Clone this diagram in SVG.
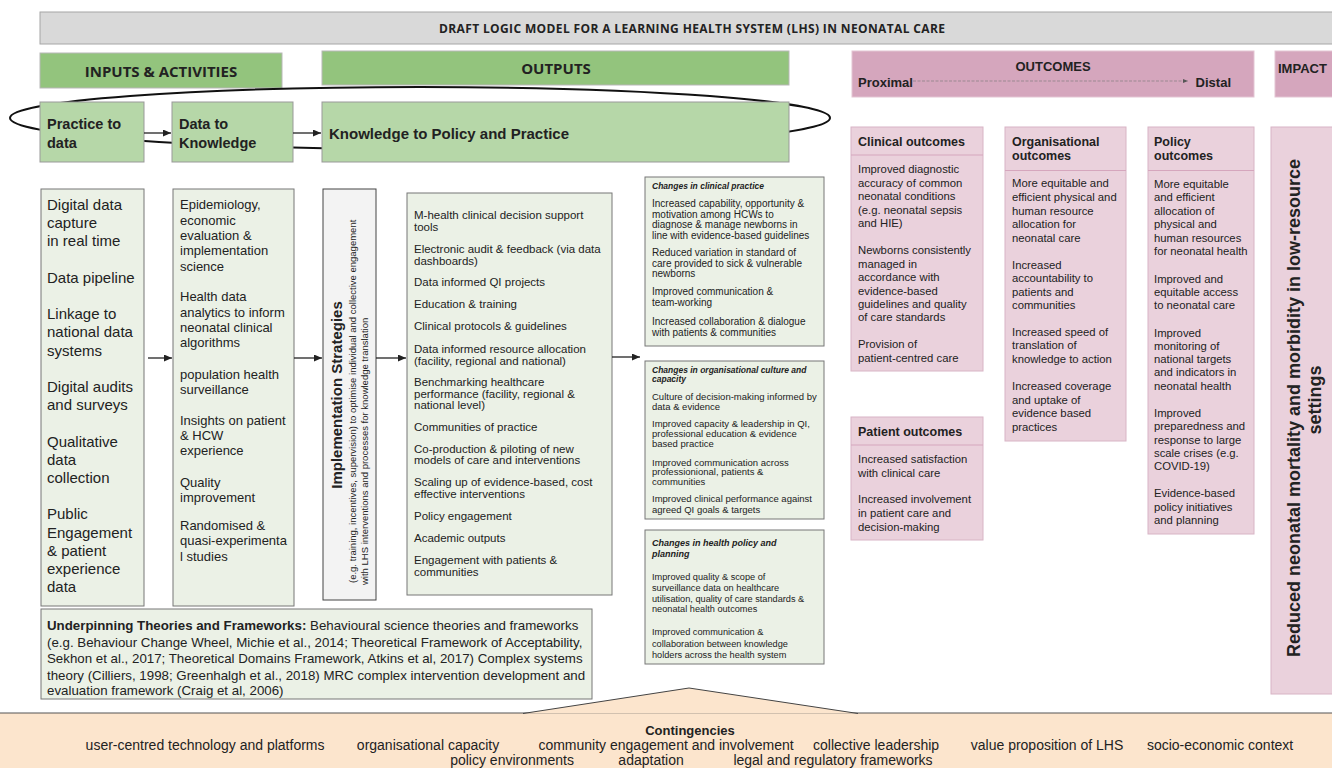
<svg xmlns="http://www.w3.org/2000/svg" width="1332" height="768" viewBox="0 0 1332 768">
<style>
text{font-family:"Liberation Sans",Arial,sans-serif;fill:#222}
.hd{font-family:"Open Sans","Liberation Sans",sans-serif;font-weight:700;fill:#222}
.b{font-weight:bold}
.bi{font-weight:bold;font-style:italic}
.grnH{fill:#93c47d;stroke:#b7b7b7;stroke-width:1}
.grn{fill:#b6d7a8;stroke:#999;stroke-width:1}
.lg{fill:#ebf1e6;stroke:#777;stroke-width:1}
.pkH{fill:#d5a6bd;stroke:#e3c5d3;stroke-width:1}
.pk{fill:#ead1dc;stroke:#d8b4c5;stroke-width:1}
.div{stroke:#d5a6bd;stroke-width:1}
.conn line{stroke:#222;stroke-width:1.3;marker-end:url(#ah)}
</style>
<defs>
<marker id="ah" markerWidth="8" markerHeight="7" refX="8" refY="3.5" orient="auto" markerUnits="userSpaceOnUse"><path d="M0,0 L8,3.5 L0,7 z" fill="#222"/></marker>
<marker id="ahs" markerWidth="5" markerHeight="4" refX="5" refY="2" orient="auto" markerUnits="userSpaceOnUse"><path d="M0,0 L5,2 L0,4 z" fill="#555"/></marker>
</defs>
<rect width="1332" height="768" fill="#fff"/>

<g id="title">
<rect x="40" y="12" width="1300" height="32" fill="#d9d9d9" stroke="#a6a6a6"/>
<text class="hd" x="692" y="33" font-size="12" font-weight="600" text-anchor="middle" textLength="506">DRAFT LOGIC MODEL FOR A LEARNING HEALTH SYSTEM (LHS)  IN NEONATAL CARE</text>
</g>

<g id="hdr-inputs"><rect class="grnH" x="40" y="53" width="242" height="35"/><text class="hd" x="161" y="77" font-size="15" text-anchor="middle">INPUTS &amp; ACTIVITIES</text></g>
<g id="hdr-outputs"><rect class="grnH" x="322" y="51" width="467" height="34"/><text class="hd" x="556" y="74" font-size="15" text-anchor="middle">OUTPUTS</text></g>
<g id="hdr-outcomes"><rect class="pkH" x="852" y="51" width="402" height="46"/>
<text class="b" x="1053" y="71" font-size="13" text-anchor="middle">OUTCOMES</text>
<text class="b" x="858" y="87" font-size="13">Proximal</text>
<text class="b" x="1231" y="87" font-size="13" text-anchor="end">Distal</text>
<line x1="913" y1="81" x2="1188" y2="81" stroke="#777" stroke-width="0.6" stroke-dasharray="3,1.5" marker-end="url(#ahs)"/>
</g>
<g id="hdr-impact"><rect class="pkH" x="1275" y="51" width="70" height="46"/><text class="b" x="1278" y="73" font-size="13">IMPACT</text></g>

<g id="loop"><ellipse cx="420" cy="118" rx="410" ry="31" fill="none" stroke="#111" stroke-width="2"/></g>

<g id="practice-to-data"><rect class="grn" x="40" y="102" width="104" height="60"/><text class="b" font-size="14.5"><tspan x="47" y="129">Practice to</tspan><tspan x="47" y="148">data</tspan></text></g>
<g id="data-to-knowledge"><rect class="grn" x="172" y="102" width="121" height="60"/><text class="b" font-size="14.5"><tspan x="179" y="129">Data to</tspan><tspan x="179" y="148">Knowledge</tspan></text></g>
<g id="knowledge-to-policy"><rect class="grn" x="322" y="102" width="467" height="60"/><text class="b" x="329" y="139" font-size="15">Knowledge to Policy and Practice</text></g>

<g id="inputs-list"><rect class="lg" x="41" y="189" width="103" height="417"/>
<text font-size="15">
<tspan x="47" y="210">Digital data</tspan><tspan x="47" y="228">capture</tspan><tspan x="47" y="246">in real time</tspan>
<tspan x="47" y="283">Data pipeline</tspan>
<tspan x="47" y="319">Linkage to</tspan><tspan x="47" y="337">national data</tspan><tspan x="47" y="356">systems</tspan>
<tspan x="47" y="392">Digital audits</tspan><tspan x="47" y="410">and surveys</tspan>
<tspan x="47" y="447">Qualitative</tspan><tspan x="47" y="465">data</tspan><tspan x="47" y="483">collection</tspan>
<tspan x="47" y="519">Public</tspan><tspan x="47" y="538">Engagement</tspan><tspan x="47" y="556">&amp; patient</tspan><tspan x="47" y="574">experience</tspan><tspan x="47" y="592">data</tspan>
</text></g>

<g id="activities-list"><rect class="lg" x="173" y="189" width="121" height="417"/>
<text font-size="13">
<tspan x="180" y="209">Epidemiology,</tspan><tspan x="180" y="225">economic</tspan><tspan x="180" y="240">evaluation &amp;</tspan><tspan x="180" y="255">implementation</tspan><tspan x="180" y="271">science</tspan>
<tspan x="180" y="301">Health data</tspan><tspan x="180" y="317">analytics to inform</tspan><tspan x="180" y="332">neonatal  clinical</tspan><tspan x="180" y="347">algorithms</tspan>
<tspan x="180" y="379">population  health</tspan><tspan x="180" y="394">surveillance</tspan>
<tspan x="180" y="425">Insights on patient</tspan><tspan x="180" y="440">&amp; HCW</tspan><tspan x="180" y="455">experience</tspan>
<tspan x="180" y="487">Quality</tspan><tspan x="180" y="502">improvement</tspan>
<tspan x="180" y="530">Randomised &amp;</tspan><tspan x="180" y="545">quasi-experimenta</tspan><tspan x="180" y="561">l studies</tspan>
</text></g>

<g id="implementation-strategies"><rect x="323" y="189" width="53" height="411" fill="#f3f3f3" stroke="#444"/>
<text class="b" font-size="15" text-anchor="middle" transform="translate(342,395) rotate(-90)">Implementation Strategies</text>
<text font-size="9.5" fill="#333" transform="translate(356,583) rotate(-90)">(e.g. training, incentives, supervision) to optimise individual and collective engagement</text>
<text font-size="9.5" fill="#333" transform="translate(368,585) rotate(-90)">with LHS interventions  and processes for knowledge translation</text>
</g>

<g id="outputs-list"><rect class="lg" x="407" y="193" width="205" height="402"/>
<text font-size="11.5">
<tspan x="414" y="219">M-health clinical decision support</tspan><tspan x="414" y="231">tools</tspan>
<tspan x="414" y="253">Electronic audit &amp; feedback (via data</tspan><tspan x="414" y="265">dashboards)</tspan>
<tspan x="414" y="286">Data informed QI projects</tspan>
<tspan x="414" y="308">Education &amp; training</tspan>
<tspan x="414" y="330">Clinical protocols &amp; guidelines</tspan>
<tspan x="414" y="353">Data informed resource allocation</tspan><tspan x="414" y="365">(facility, regional and national)</tspan>
<tspan x="414" y="386">Benchmarking healthcare</tspan><tspan x="414" y="398">performance  (facility, regional &amp;</tspan><tspan x="414" y="409">national level)</tspan>
<tspan x="414" y="431">Communities of practice</tspan>
<tspan x="414" y="453">Co-production &amp; piloting of new</tspan><tspan x="414" y="464">models of care and interventions</tspan>
<tspan x="414" y="486">Scaling up of evidence-based, cost</tspan><tspan x="414" y="498">effective interventions</tspan>
<tspan x="414" y="520">Policy engagement</tspan>
<tspan x="414" y="542">Academic outputs</tspan>
<tspan x="414" y="564">Engagement with patients &amp;</tspan><tspan x="414" y="576">communities</tspan>
</text></g>

<g id="changes-clinical"><rect class="lg" x="645" y="177" width="179" height="169"/>
<text class="bi" x="652" y="189" font-size="8.5">Changes in clinical practice</text>
<text font-size="10" fill="#333">
<tspan x="652" y="207">Increased capability, opportunity &amp;</tspan><tspan x="652" y="217.5">motivation among HCWs  to</tspan><tspan x="652" y="228">diagnose &amp; manage newborns in</tspan><tspan x="652" y="238.5">line with evidence-based guidelines</tspan>
<tspan x="652" y="256">Reduced variation in standard of</tspan><tspan x="652" y="266.5">care provided to sick &amp; vulnerable</tspan><tspan x="652" y="277">newborns</tspan>
<tspan x="652" y="295">Improved  communication &amp;</tspan><tspan x="652" y="305.5">team-working</tspan>
<tspan x="652" y="325">Increased collaboration &amp; dialogue</tspan><tspan x="652" y="335.5">with patients &amp; communities</tspan>
</text></g>

<g id="changes-organisational"><rect class="lg" x="645" y="361" width="179" height="158"/>
<text class="bi" font-size="8.5"><tspan x="652" y="373">Changes in organisational culture and</tspan><tspan x="652" y="382">capacity</tspan></text>
<text font-size="9.5" fill="#333">
<tspan x="652" y="399.5">Culture of decision-making informed by</tspan><tspan x="652" y="409.5">data &amp; evidence</tspan>
<tspan x="652" y="426.5">Improved capacity &amp; leadership in QI,</tspan><tspan x="652" y="436.5">professional education &amp; evidence</tspan><tspan x="652" y="446.5">based practice</tspan>
<tspan x="652" y="465.5">Improved communication across</tspan><tspan x="652" y="475">professionional, patients &amp;</tspan><tspan x="652" y="484.5">communities</tspan>
<tspan x="652" y="501.5">Improved clinical performance  against</tspan><tspan x="652" y="512.5">agreed QI goals &amp; targets</tspan>
</text></g>

<g id="changes-policy"><rect class="lg" x="645" y="530" width="179" height="134"/>
<text class="bi" font-size="9"><tspan x="652" y="546">Changes in health policy and</tspan><tspan x="652" y="557">planning</tspan></text>
<text font-size="9.2" fill="#333">
<tspan x="652" y="580">Improved  quality  &amp; scope of</tspan><tspan x="652" y="591">surveillance data on healthcare</tspan><tspan x="652" y="601.5">utilisation, quality of care standards  &amp;</tspan><tspan x="652" y="612">neonatal health outcomes</tspan>
<tspan x="652" y="635">Improved communication &amp;</tspan><tspan x="652" y="646.5">collaboration between knowledge</tspan><tspan x="652" y="658">holders across the health system</tspan>
</text></g>

<g id="clinical-outcomes"><rect class="pk" x="851" y="127" width="132" height="244"/><line class="div" x1="851" y1="155" x2="983" y2="155"/>
<text class="b" x="858" y="146" font-size="12.5" fill="#222">Clinical outcomes</text>
<text font-size="11.3" fill="#3a3a3a">
<tspan x="858" y="173">Improved diagnostic</tspan><tspan x="858" y="187">accuracy  of  common</tspan><tspan x="858" y="200">neonatal conditions</tspan><tspan x="858" y="214">(e.g. neonatal sepsis</tspan><tspan x="858" y="227">and HIE)</tspan>
<tspan x="858" y="254">Newborns consistently</tspan><tspan x="858" y="268">managed in</tspan><tspan x="858" y="281">accordance with</tspan><tspan x="858" y="294.5">evidence-based</tspan><tspan x="858" y="308">guidelines and quality</tspan><tspan x="858" y="321">of care standards</tspan>
<tspan x="858" y="348">Provision of</tspan><tspan x="858" y="361.5">patient-centred care</tspan>
</text></g>

<g id="organisational-outcomes"><rect class="pk" x="1005" y="127" width="121" height="314"/><line class="div" x1="1005" y1="170.5" x2="1126" y2="170.5"/>
<text class="b" font-size="12.5" fill="#222"><tspan x="1012" y="146">Organisational</tspan><tspan x="1012" y="160">outcomes</tspan></text>
<text font-size="11.3" fill="#3a3a3a">
<tspan x="1012" y="187">More equitable and</tspan><tspan x="1012" y="201">efficient physical and</tspan><tspan x="1012" y="214.5">human resource</tspan><tspan x="1012" y="228">allocation for</tspan><tspan x="1012" y="242">neonatal care</tspan>
<tspan x="1012" y="269">Increased</tspan><tspan x="1012" y="282">accountability to</tspan><tspan x="1012" y="296">patients and</tspan><tspan x="1012" y="309">communities</tspan>
<tspan x="1012" y="335.5">Increased speed of</tspan><tspan x="1012" y="349">translation of</tspan><tspan x="1012" y="363">knowledge to action</tspan>
<tspan x="1012" y="390">Increased coverage</tspan><tspan x="1012" y="403.5">and uptake of</tspan><tspan x="1012" y="417">evidence based</tspan><tspan x="1012" y="431">practices</tspan>
</text></g>

<g id="patient-outcomes"><rect class="pk" x="851" y="417" width="132" height="123"/><line class="div" x1="851" y1="445" x2="983" y2="445"/>
<text class="b" x="858" y="436" font-size="12.5" fill="#222">Patient outcomes</text>
<text font-size="11.3" fill="#3a3a3a">
<tspan x="858" y="463">Increased satisfaction</tspan><tspan x="858" y="476.5">with clinical care</tspan>
<tspan x="858" y="503">Increased involvement</tspan><tspan x="858" y="517">in patient care and</tspan><tspan x="858" y="530.5">decision-making</tspan>
</text></g>

<g id="policy-outcomes"><rect class="pk" x="1148" y="127" width="106" height="407"/><line class="div" x1="1148" y1="170.5" x2="1254" y2="170.5"/>
<text class="b" font-size="12.5" fill="#222"><tspan x="1154" y="146">Policy</tspan><tspan x="1154" y="160">outcomes</tspan></text>
<text font-size="11.3" fill="#3a3a3a">
<tspan x="1154" y="188">More equitable</tspan><tspan x="1154" y="201">and efficient</tspan><tspan x="1154" y="215">allocation of</tspan><tspan x="1154" y="228">physical  and</tspan><tspan x="1154" y="242">human resources</tspan><tspan x="1154" y="255">for neonatal health</tspan>
<tspan x="1154" y="283">Improved and</tspan><tspan x="1154" y="296">equitable access</tspan><tspan x="1154" y="309">to neonatal care</tspan>
<tspan x="1154" y="337">Improved</tspan><tspan x="1154" y="350">monitoring of</tspan><tspan x="1154" y="363">national targets</tspan><tspan x="1154" y="376">and indicators in</tspan><tspan x="1154" y="390">neonatal health</tspan>
<tspan x="1154" y="417">Improved</tspan><tspan x="1154" y="430">preparedness and</tspan><tspan x="1154" y="444">response to large</tspan><tspan x="1154" y="457">scale crises (e.g.</tspan><tspan x="1154" y="470">COVID-19)</tspan>
<tspan x="1154" y="497">Evidence-based</tspan><tspan x="1154" y="511">policy initiatives</tspan><tspan x="1154" y="524">and planning</tspan>
</text></g>

<g id="impact"><rect class="pk" x="1271" y="127" width="70" height="567"/>
<text class="b" font-size="18" text-anchor="middle" transform="translate(1300,408) rotate(-90)">Reduced neonatal mortality and morbidity in low-resource</text>
<text class="b" font-size="18" text-anchor="middle" transform="translate(1321,400) rotate(-90)">settings</text>
</g>

<g id="theories"><rect class="lg" x="41" y="609" width="551" height="90"/>
<text font-size="13.3">
<tspan x="47" y="629.5"><tspan font-weight="bold">Underpinning Theories and Frameworks:</tspan> Behavioural science theories and frameworks</tspan>
<tspan x="47" y="646.5">(e.g. Behaviour Change Wheel, Michie et al., 2014; Theoretical Framework of Acceptability,</tspan>
<tspan x="47" y="663">Sekhon et al., 2017; Theoretical Domains Framework, Atkins et al, 2017) Complex systems</tspan>
<tspan x="47" y="679.5">theory (Cilliers, 1998; Greenhalgh et al., 2018) MRC complex intervention development and</tspan>
<tspan x="47" y="694.5">evaluation framework (Craig et al, 2006)</tspan>
</text></g>

<g id="contingencies">
<rect x="-2" y="713" width="1340" height="60" fill="#fce5cd" stroke="#555"/>
<path d="M523,713.5 L689,688 L858,713.5" fill="#fce5cd" stroke="#444" stroke-width="1"/>
<text class="b" x="690" y="735" font-size="13" text-anchor="middle">Contingencies</text>
<text font-size="14" text-anchor="middle">
<tspan x="207" y="750">user-centred technology and platforms</tspan>
<tspan x="430" y="750">organisational capacity</tspan>
<tspan x="668" y="750">community engagement and involvement</tspan>
<tspan x="878" y="750">collective leadership</tspan>
<tspan x="1049" y="750">value proposition of LHS</tspan>
<tspan x="1222" y="750">socio-economic context</tspan>
<tspan x="514" y="765">policy environments</tspan>
<tspan x="653" y="765">adaptation</tspan>
<tspan x="833" y="765">legal and regulatory frameworks</tspan>
</text></g>

<g id="connectors" class="conn">
<line x1="144" y1="133" x2="171" y2="133"/>
<line x1="293" y1="133" x2="321" y2="133"/>
<line x1="148" y1="358" x2="172" y2="358"/>
<line x1="294" y1="358" x2="322" y2="358"/>
<line x1="376" y1="358" x2="406" y2="358"/>
<line x1="612" y1="357" x2="640" y2="357"/>
</g>
</svg>
